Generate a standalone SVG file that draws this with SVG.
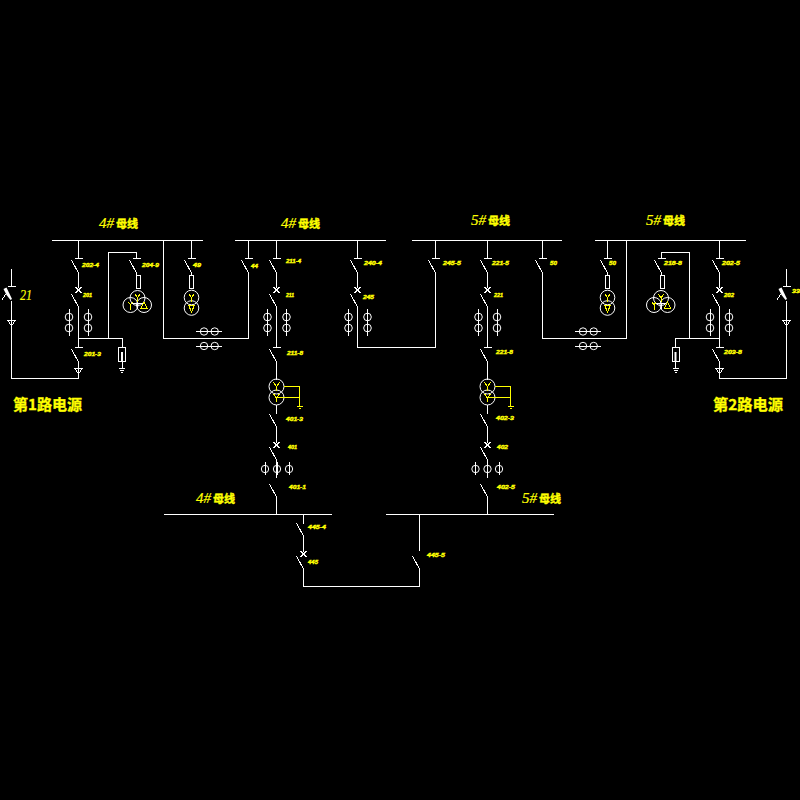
<svg xmlns="http://www.w3.org/2000/svg" width="800" height="800" viewBox="0 0 800 800">
<style>
.w{stroke:#fff;stroke-width:1;fill:none;shape-rendering:crispEdges}
.t{stroke:#fff;stroke-width:1;fill:none}
.y{stroke:#ff0;stroke-width:1;fill:none;shape-rendering:crispEdges}
.l{fill:#ff0;stroke:#ff0;stroke-width:.4;font-family:"Liberation Sans",sans-serif;font-style:italic;font-weight:bold;font-size:6px}
.h{fill:#ff0;stroke:#ff0;stroke-width:.2;font-family:"Liberation Serif","Noto Sans CJK SC",serif;font-style:italic;font-size:15px}
.c{fill:#ff0;stroke:#ff0;stroke-width:.4;font-family:"Noto Sans CJK SC",sans-serif;font-style:normal;font-weight:bold;font-size:11px}
.p{fill:#ff0;stroke:#ff0;stroke-width:.3;font-family:"Noto Sans CJK SC",sans-serif;font-weight:bold;font-size:15px}
</style>
<defs>
<g id="top"><path class="w" d="M-4 0H4M-7 2L0 15"/></g>
<g id="sw"><path class="w" d="M-7 0L0 13"/></g>
<g id="x"><path class="w" d="M-3 -3L3 3M-3 3L3 -3"/></g>
<g id="ct"><path class="w" d="M0 -8V19"/><circle class="t" r="3.800"/><circle class="t" cy="11" r="3.800"/></g>
<g id="ct1"><path class="w" d="M0 -7V6"/><circle class="t" r="3.700"/></g>
<g id="pt"><path class="w" d="M0 0H26"/><circle class="t" cx="8" r="3.700"/><circle class="t" cx="18.700" r="3.700"/></g>
<g id="tri"><path class="w" d="M-4 0H4L0 6ZM0 0V6"/></g>
<g id="fuse"><rect class="w" x="-2" width="4" height="13"/></g>
<g id="gnd"><path class="w" d="M-3 0H3M-2 2H2M-1 4H1"/></g>
<g id="t3">
<circle class="t" cy="-7" r="7.500"/><circle class="t" cx="-7" r="7.500"/><circle class="t" cx="6.500" r="7.500"/>
<path class="w" d="M0 -2V4M-6 -2H6"/>
<path class="y" d="M-2.500 -11L0 -7L2.500 -11M0 -7V-3M-9 -3L-7 0L-5 -3M-7 0V5M6.500 -3L3.500 3H9.500Z"/>
</g>
<g id="t2">
<circle class="t" cy="-5.500" r="7.300"/><circle class="t" cy="5" r="7.300"/>
<path class="y" d="M-2.500 -9L0 -5L2.500 -9M0 -5V-1M-3 2H3L0 9Z"/>
</g>
<g id="tg">
<circle class="t" cy="-5.500" r="7.500"/><circle class="t" cy="5.500" r="7.500"/>
<path class="y" d="M-3 -9.500L0 -5.500L3 -9.500M0 -5.500V-1M7 -5.500H23V14M0 5.500H23M-3 2L0 6L3 2M0 6V9.500M20 14.500H26M22 16.500H24"/>
</g>
<g id="arr">
<path class="w" d="M0 0V17M-4 17H4"/>
<path d="M-8 20L-5 18.500L0.500 30L-1 31L-5 26Z" fill="#fff"/>
<path class="w" d="M-10 31.500L-5 24"/>
</g>
</defs>
<rect width="800" height="800" fill="#000"/>

<g id="connectors">
<path class="w" d="M52 240.500H203M235 240.500H386M412 240.500H562M595 240.500H746"/>
<path class="w" d="M164 514.500H332M386 514.500H554"/>
<path class="w" d="M78.500 240V258M78.500 273V288M78.500 307V347M78.500 361V378.500H11.500V301"/>
<path class="w" d="M78.500 338.500H122.500V347M122.500 361V368M108.500 338.500V252.500H136.500V258M136.500 273V275"/>
<path class="w" d="M191.500 240V258M191.500 273V275"/>
<path class="w" d="M163.500 240V338.500H248.500V273M248.500 240V258"/>
<path class="w" d="M276.500 240V258M276.500 273V288M276.500 307V347M276.500 362V380M276.500 405V414M276.500 427V443M276.500 460V478M276.500 497V514"/>
<path class="w" d="M357.500 240V258M357.500 273V288M357.500 307V347.500H435.500V273M435.500 240V258"/>
<path class="w" d="M487.500 240V258M487.500 273V288M487.500 307V347M487.500 362V380M487.500 405V414M487.500 427V443M487.500 460V478M487.500 497V514"/>
<path class="w" d="M542.500 240V258M542.500 273V338.500H626.500V240"/>
<path class="w" d="M607.500 240V258M607.500 273V275M661.500 258V252.500H689.500V338.500M661.500 273V275"/>
<path class="w" d="M675.500 347V338.500H719.500M675.500 361V368"/>
<path class="w" d="M719.500 240V258M719.500 273V288M719.500 307V347M719.500 362V378.500H786.500V301"/>
<path class="w" d="M303.500 514V524M303.500 536V552M303.500 569V586.500H419.500V569M419.500 514V551"/>
</g>

<g id="src1"><use href="#arr" x="11.500" y="269"/><use href="#tri" x="11.500" y="320"/><text x="20" y="300" class="h" textLength="12" lengthAdjust="spacingAndGlyphs">21</text></g>
<g id="src2"><use href="#arr" x="786.500" y="269"/><use href="#tri" x="786.500" y="320"/><text x="792" y="293" class="l" textLength="8" lengthAdjust="spacingAndGlyphs">33</text></g>

<g id="f202"><use href="#top" x="78.500" y="258"/><use href="#x" x="78.500" y="290"/><use href="#sw" x="78.500" y="294"/><use href="#ct" x="69" y="317"/><use href="#ct" x="88" y="317"/><use href="#top" x="78.500" y="347"/><use href="#tri" x="78.500" y="368"/></g>
<g id="f204"><use href="#top" x="136.500" y="258"/><use href="#fuse" x="138" y="275"/><use href="#t3" x="137.500" y="305"/></g>
<g id="fz1"><rect class="w" x="118.500" y="347.500" width="7" height="14"/><path d="M121 352H123V361H121Z" fill="#fff"/><use href="#gnd" x="122" y="368"/></g>
<g id="f49"><use href="#top" x="191.500" y="258"/><use href="#fuse" x="191.500" y="275"/><use href="#t2" x="191.500" y="303"/></g>
<g id="f44"><use href="#top" x="248.500" y="258"/><use href="#pt" x="196" y="331.500"/><use href="#pt" x="196" y="346"/></g>
<g id="f211"><use href="#top" x="276.500" y="258"/><use href="#x" x="276.500" y="290"/><use href="#sw" x="276.500" y="294"/><use href="#ct" x="267.500" y="317"/><use href="#ct" x="286.500" y="317"/><use href="#top" x="276.500" y="347"/><use href="#tg" x="276.500" y="392"/></g>
<g id="f401"><use href="#sw" x="276.500" y="414"/><use href="#x" x="276.500" y="445"/><use href="#sw" x="276.500" y="447"/><use href="#ct1" x="265" y="469"/><use href="#ct1" x="277" y="469"/><use href="#ct1" x="289" y="469"/><use href="#sw" x="276.500" y="484"/></g>
<g id="f240"><use href="#top" x="357.500" y="258"/><use href="#x" x="357.500" y="290"/><use href="#sw" x="357.500" y="294"/><use href="#ct" x="348.500" y="317"/><use href="#ct" x="367.500" y="317"/></g>
<g id="f245"><use href="#top" x="435.500" y="258"/></g>
<g id="f221"><use href="#top" x="487.500" y="258"/><use href="#x" x="487.500" y="290"/><use href="#sw" x="487.500" y="294"/><use href="#ct" x="478.500" y="317"/><use href="#ct" x="497" y="317"/><use href="#top" x="487.500" y="347"/><use href="#tg" x="487.500" y="392"/></g>
<g id="f402"><use href="#sw" x="487.500" y="414"/><use href="#x" x="487.500" y="445"/><use href="#sw" x="487.500" y="447"/><use href="#ct1" x="475.500" y="469"/><use href="#ct1" x="487.500" y="469"/><use href="#ct1" x="499" y="469"/><use href="#sw" x="487.500" y="484"/></g>
<g id="f50"><use href="#top" x="542.500" y="258"/><use href="#pt" x="575" y="331.500"/><use href="#pt" x="575" y="346"/></g>
<g id="f51"><use href="#top" x="607.500" y="258"/><use href="#fuse" x="607.500" y="275"/><use href="#t2" x="607.500" y="303"/></g>
<g id="f218"><use href="#top" x="661.500" y="258"/><use href="#fuse" x="662" y="275"/><use href="#t3" x="661" y="305"/></g>
<g id="fz2"><rect class="w" x="672.500" y="347.500" width="7" height="14"/><path d="M674.500 352H676.500V361H674.500Z" fill="#fff"/><use href="#gnd" x="675.500" y="368"/></g>
<g id="f203"><use href="#top" x="719.500" y="258"/><use href="#x" x="719.500" y="290"/><use href="#sw" x="719.500" y="294"/><use href="#ct" x="710" y="317"/><use href="#ct" x="729" y="317"/><use href="#top" x="719.500" y="347"/><use href="#tri" x="719.500" y="368"/></g>
<g id="f445"><use href="#sw" x="303.500" y="523"/><use href="#x" x="303.500" y="554"/><use href="#sw" x="303.500" y="556"/><use href="#sw" x="419.500" y="556"/></g>

<g id="titles">
<text class="h" x="99" y="228">4#<tspan class="c" dx="2">母线</tspan></text>
<text class="h" x="281" y="228">4#<tspan class="c" dx="2">母线</tspan></text>
<text class="h" x="471" y="225">5#<tspan class="c" dx="2">母线</tspan></text>
<text class="h" x="646" y="225">5#<tspan class="c" dx="2">母线</tspan></text>
<text class="h" x="196" y="503">4#<tspan class="c" dx="2">母线</tspan></text>
<text class="h" x="522" y="503">5#<tspan class="c" dx="2">母线</tspan></text>
<text class="p" x="13" y="410" textLength="69" lengthAdjust="spacingAndGlyphs">第1路电源</text>
<text class="p" x="713" y="410" textLength="70" lengthAdjust="spacingAndGlyphs">第2路电源</text>
</g>

<g id="labels">
<text class="l" x="82" y="266.500" textLength="17" lengthAdjust="spacingAndGlyphs">202-4</text>
<text class="l" x="142" y="266.500" textLength="17" lengthAdjust="spacingAndGlyphs">204-9</text>
<text class="l" x="193" y="266.500" textLength="8" lengthAdjust="spacingAndGlyphs">49</text>
<text class="l" x="83" y="296.500" textLength="9" lengthAdjust="spacingAndGlyphs">201</text>
<text class="l" x="84" y="356" textLength="17" lengthAdjust="spacingAndGlyphs">201-3</text>
<text class="l" x="251" y="268" textLength="7" lengthAdjust="spacingAndGlyphs">44</text>
<text class="l" x="286" y="263" textLength="15" lengthAdjust="spacingAndGlyphs">211-4</text>
<text class="l" x="364" y="264.500" textLength="18" lengthAdjust="spacingAndGlyphs">240-4</text>
<text class="l" x="286" y="297" textLength="8" lengthAdjust="spacingAndGlyphs">211</text>
<text class="l" x="363" y="299" textLength="11" lengthAdjust="spacingAndGlyphs">245</text>
<text class="l" x="287" y="355" textLength="16" lengthAdjust="spacingAndGlyphs">211-8</text>
<text class="l" x="443" y="265" textLength="18" lengthAdjust="spacingAndGlyphs">245-5</text>
<text class="l" x="492" y="264.500" textLength="17" lengthAdjust="spacingAndGlyphs">221-5</text>
<text class="l" x="494" y="297" textLength="9" lengthAdjust="spacingAndGlyphs">221</text>
<text class="l" x="496" y="353.500" textLength="17" lengthAdjust="spacingAndGlyphs">221-8</text>
<text class="l" x="550" y="265" textLength="7" lengthAdjust="spacingAndGlyphs">50</text>
<text class="l" x="609" y="265" textLength="7" lengthAdjust="spacingAndGlyphs">50</text>
<text class="l" x="664" y="264.500" textLength="18" lengthAdjust="spacingAndGlyphs">218-8</text>
<text class="l" x="722" y="265" textLength="18" lengthAdjust="spacingAndGlyphs">202-5</text>
<text class="l" x="724" y="297" textLength="10" lengthAdjust="spacingAndGlyphs">202</text>
<text class="l" x="724" y="354" textLength="18" lengthAdjust="spacingAndGlyphs">203-8</text>
<text class="l" x="286" y="421" textLength="17" lengthAdjust="spacingAndGlyphs">401-3</text>
<text class="l" x="288" y="449" textLength="9" lengthAdjust="spacingAndGlyphs">401</text>
<text class="l" x="289" y="489" textLength="17" lengthAdjust="spacingAndGlyphs">401-1</text>
<text class="l" x="308" y="529" textLength="18" lengthAdjust="spacingAndGlyphs">445-4</text>
<text class="l" x="308" y="564" textLength="10" lengthAdjust="spacingAndGlyphs">445</text>
<text class="l" x="496" y="419.500" textLength="18" lengthAdjust="spacingAndGlyphs">402-3</text>
<text class="l" x="497" y="449" textLength="11" lengthAdjust="spacingAndGlyphs">402</text>
<text class="l" x="497" y="489" textLength="18" lengthAdjust="spacingAndGlyphs">402-5</text>
<text class="l" x="427" y="557" textLength="18" lengthAdjust="spacingAndGlyphs">445-5</text>
</g>
</svg>
